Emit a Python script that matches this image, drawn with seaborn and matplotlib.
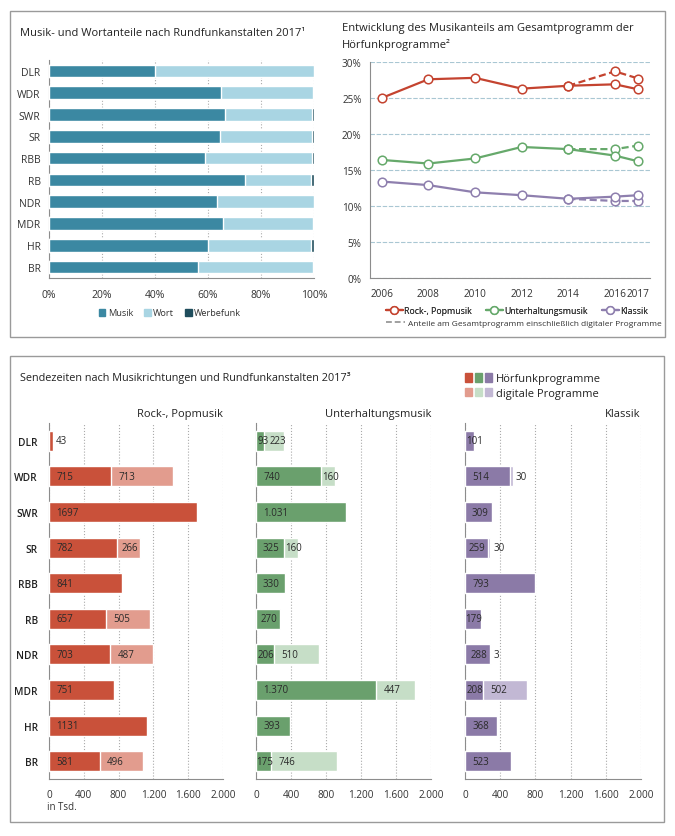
import matplotlib
matplotlib.use("Agg")
import matplotlib.pyplot as plt
from matplotlib.patches import Patch, Rectangle
from matplotlib.lines import Line2D
from matplotlib.legend_handler import HandlerTuple
import seaborn as sns
import numpy as np

# ---------------- data ----------------
stations = ["DLR", "WDR", "SWR", "SR", "RBB", "RB", "NDR", "MDR", "HR", "BR"]

# top left: shares in %
musik = [40.0, 65.0, 66.3, 64.5, 59.0, 73.8, 63.3, 65.5, 59.9, 56.4]
wort = [60.0, 34.5, 32.9, 34.8, 40.2, 25.2, 36.6, 34.0, 39.1, 43.2]
werbefunk = [0.0, 0.5, 0.8, 0.7, 0.8, 1.0, 0.1, 0.5, 1.0, 0.4]

# top right: music share in %
years = [2006, 2008, 2010, 2012, 2014, 2016, 2017]
rock_share = [25.0, 27.6, 27.8, 26.3, 26.7, 26.9, 26.2]
unterh_share = [16.4, 15.9, 16.6, 18.2, 17.9, 17.0, 16.2]
klassik_share = [13.4, 12.9, 11.9, 11.5, 11.0, 11.3, 11.5]
years_dig = [2014, 2016, 2017]
rock_share_dig = [26.7, 28.7, 27.7]
unterh_share_dig = [17.9, 17.9, 18.4]
klassik_share_dig = [11.0, 10.7, 10.7]

# bottom: airtime in thousand minutes
rock_radio = [43, 715, 1697, 782, 841, 657, 703, 751, 1131, 581]
rock_digital = [0, 713, 0, 266, 0, 505, 487, 0, 0, 496]
unterh_radio = [93, 740, 1031, 325, 330, 270, 206, 1370, 393, 175]
unterh_digital = [223, 160, 0, 160, 0, 0, 510, 447, 0, 746]
klassik_radio = [101, 514, 309, 259, 793, 179, 288, 208, 368, 523]
klassik_digital = [0, 30, 0, 30, 0, 0, 3, 502, 0, 0]

bottom_ticks = [0, 400, 800, 1200, 1600, 2000]
bottom_ticklabels = ["0", "400", "800", "1.200", "1.600", "2.000"]
pct_ticks_top_left = [0, 20, 40, 60, 80, 100]
pct_ticks_top_right = [0, 5, 10, 15, 20, 25, 30]

# ---------------- style ----------------
sns.set_style("white")
plt.rcParams["font.family"] = ["Open Sans", "DejaVu Sans"]
plt.rcParams["text.color"] = "#222222"

W, H = 675, 837
fig = plt.figure(figsize=(W / 100, H / 100), dpi=100)
fig.patch.set_facecolor("white")


def rect(x0, y0, x1, y1):
    return [x0 / W, 1 - y1 / H, (x1 - x0) / W, (y1 - y0) / H]


def fx(x):
    return x / W


def fy(y):
    return 1 - y / H


GRAY = "#8c8c8c"
TXT = "#333333"

# frames
for (x0, y0, x1, y1) in [(10, 12, 665, 338), (10, 357, 664, 823)]:
    fig.add_artist(Rectangle((fx(x0), fy(y1)), (x1 - x0) / W, (y1 - y0) / H,
                             transform=fig.transFigure, fill=False,
                             ec="#9a9a9a", lw=1.0))

# ---------------- top left ----------------
c_musik, c_wort, c_werbe = "#3b88a2", "#a9d5e3", "#1f4d5c"
ax1 = fig.add_axes(rect(49, 61, 314, 279))
total = [m + w + r for m, w, r in zip(musik, wort, werbefunk)]
mw = [m + w for m, w in zip(musik, wort)]
for vals, col in [(total, c_werbe), (mw, c_wort), (musik, c_musik)]:
    sns.barplot(x=vals, y=stations, orient="h", color=col, width=0.58,
                saturation=1, errorbar=None, ax=ax1, zorder=3)
ax1.set_xlim(0, 100)
ax1.set_ylim(9.5, -0.5)
ax1.set_xticks(pct_ticks_top_left)
ax1.set_xticklabels([f"{v}%" for v in pct_ticks_top_left])
ax1.set_xlabel("")
ax1.set_ylabel("")
ax1.xaxis.grid(True, ls=":", color="#aaaaaa", lw=0.8, zorder=0)
ax1.set_axisbelow(True)
for s in ["top", "right"]:
    ax1.spines[s].set_visible(False)
for s in ["left", "bottom"]:
    ax1.spines[s].set_color(GRAY)
    ax1.spines[s].set_linewidth(0.8)
ax1.set_yticks(np.arange(-0.5, 10, 1), minor=True)
ax1.tick_params(axis="y", which="major", length=0, labelsize=7.5,
                labelcolor=TXT, pad=6)
ax1.tick_params(axis="y", which="minor", length=3, color=GRAY, width=0.8)
ax1.tick_params(axis="x", which="major", length=3, color=GRAY, width=0.8,
                labelsize=7.5, labelcolor=TXT, pad=5)
fig.text(fx(20), fy(33), "Musik- und Wortanteile nach Rundfunkanstalten 2017\u00b9",
         fontsize=8, va="center", ha="left", color="#222222")
fig.legend(handles=[Patch(color=c_musik, label="Musik"),
                    Patch(color=c_wort, label="Wort"),
                    Patch(color=c_werbe, label="Werbefunk")],
           loc="center", bbox_to_anchor=(fx(170), fy(314)), ncol=3,
           frameon=False, fontsize=6.6, handlelength=0.7, handleheight=0.7,
           handletextpad=0.3, columnspacing=1.2, labelcolor=TXT)

# ---------------- top right ----------------
c_rock_l, c_unt_l, c_kla_l = "#c4432f", "#66a96b", "#8e7fae"
ax2 = fig.add_axes(rect(370, 63, 650, 279))
series = [(rock_share, rock_share_dig, c_rock_l),
          (unterh_share, unterh_share_dig, c_unt_l),
          (klassik_share, klassik_share_dig, c_kla_l)]
for solid, dig, col in series:
    sns.lineplot(x=years_dig, y=dig, ax=ax2, color=col, lw=1.6,
                 linestyle=(0, (3.2, 1.6)), marker="o", markersize=6.2,
                 markerfacecolor="white", markeredgecolor=col,
                 markeredgewidth=1.1, zorder=4)
    sns.lineplot(x=years, y=solid, ax=ax2, color=col, lw=1.6,
                 marker="o", markersize=6.2, markerfacecolor="white",
                 markeredgecolor=col, markeredgewidth=1.1, zorder=5)
ax2.set_xlim(2005.5, 2017.5)
ax2.set_ylim(0, 30)
ax2.set_xticks(years)
ax2.set_xticklabels([str(y) for y in years])
ax2.set_xticks(np.arange(2006.5, 2018, 1), minor=True)
ax2.set_yticks(pct_ticks_top_right)
ax2.set_yticklabels([f"{v}%" for v in pct_ticks_top_right])
ax2.set_xlabel("")
ax2.set_ylabel("")
ax2.yaxis.grid(True, color="#a9c7d3", lw=0.8, ls=(0, (4, 1.5)), zorder=0)
ax2.set_axisbelow(True)
for s in ["top", "right"]:
    ax2.spines[s].set_visible(False)
for s in ["left", "bottom"]:
    ax2.spines[s].set_color(GRAY)
    ax2.spines[s].set_linewidth(0.8)
ax2.tick_params(axis="x", which="major", length=0, labelsize=7.2,
                labelcolor=TXT, pad=7)
ax2.tick_params(axis="x", which="minor", length=3, color=GRAY, width=0.8)
ax2.tick_params(axis="y", which="major", length=3, color=GRAY, width=0.8,
                labelsize=7.2, labelcolor=TXT, pad=3)
fig.text(fx(342), fy(29), "Entwicklung des Musikanteils am Gesamtprogramm der",
         fontsize=8, va="center", ha="left", color="#222222")
fig.text(fx(342), fy(45), "H\u00f6rfunkprogramme\u00b2",
         fontsize=8, va="center", ha="left", color="#222222")


def lh(col, label):
    return Line2D([], [], color=col, lw=1.6, marker="o", markersize=5.5,
                  markerfacecolor="white", markeredgecolor=col,
                  markeredgewidth=1.1, label=label)


leg_a = fig.legend(handles=[lh(c_rock_l, "Rock-, Popmusik"),
                            lh(c_unt_l, "Unterhaltungsmusik"),
                            lh(c_kla_l, "Klassik")],
                   loc="center left", bbox_to_anchor=(fx(386), fy(312)),
                   ncol=3, frameon=False, fontsize=6.3, handlelength=1.9,
                   handletextpad=0.2, columnspacing=1.6, labelcolor=TXT,
                   borderpad=0, borderaxespad=0)
fig.add_artist(leg_a)
fig.legend(handles=[Line2D([], [], color="#a0a0a0", lw=1.4, ls=(0, (3, 1.5)),
                           label="Anteile am Gesamtprogramm einschlie\u00dflich digitaler Programme")],
           loc="center left", bbox_to_anchor=(fx(386), fy(324)),
           frameon=False, fontsize=6.0, handlelength=2.3, handletextpad=0.4,
           labelcolor=TXT, borderpad=0, borderaxespad=0)

# ---------------- bottom ----------------
fig.text(fx(20), fy(378), "Sendezeiten nach Musikrichtungen und Rundfunkanstalten 2017\u00b3",
         fontsize=7.8, va="center", ha="left", color="#222222")

panels = [
    ("Rock-, Popmusik", rock_radio, rock_digital, "#c9513a", "#e29c8e",
     (49, 223), lambda v: str(v)),
    ("Unterhaltungsmusik", unterh_radio, unterh_digital, "#6aa06d", "#c6dec7",
     (256, 431), lambda v: f"{v:,}".replace(",", ".")),
    ("Klassik", klassik_radio, klassik_digital, "#8b7aa7", "#c2b8d4",
     (465, 641), lambda v: f"{v:,}".replace(",", ".")),
]


def text_w(s):
    return sum(2.2 if ch == "." else 5.0 for ch in s)


for idx, (title, radio, dig, cd, cl, (x0, x1), fmt) in enumerate(panels):
    ax = fig.add_axes(rect(x0, 424, x1, 780))
    tot = [a + b for a, b in zip(radio, dig)]
    sns.barplot(x=tot, y=stations, orient="h", color=cl, width=0.56,
                saturation=1, errorbar=None, ax=ax, zorder=3)
    sns.barplot(x=radio, y=stations, orient="h", color=cd, width=0.56,
                saturation=1, errorbar=None, ax=ax, zorder=3)
    ax.set_xlim(0, 2000)
    ax.set_ylim(9.5, -0.5)
    ax.set_xticks(bottom_ticks)
    ax.set_xticklabels(bottom_ticklabels)
    ax.set_xlabel("")
    ax.set_ylabel("")
    ax.xaxis.grid(True, ls=":", color="#aaaaaa", lw=0.8, zorder=0)
    ax.set_axisbelow(True)
    for s in ["top", "right"]:
        ax.spines[s].set_visible(False)
    for s in ["left", "bottom"]:
        ax.spines[s].set_color(GRAY)
        ax.spines[s].set_linewidth(0.8)
    ax.set_yticks(np.arange(-0.5, 10, 1), minor=True)
    ax.tick_params(axis="y", which="minor", length=3, color=GRAY, width=0.8)
    ax.tick_params(axis="x", which="major", length=3, color=GRAY, width=0.8,
                   labelsize=7.2, labelcolor=TXT, pad=4)
    if idx == 0:
        ax.tick_params(axis="y", which="major", length=0, labelsize=7.3,
                       labelcolor="#222222", pad=8)
        for lab in ax.get_yticklabels():
            lab.set_fontweight("semibold")
    else:
        ax.tick_params(axis="y", which="major", length=0, labelleft=False)
    ax.set_title(title, loc="right", fontsize=8, pad=5, color="#222222")

    ppu = (x1 - x0) / 2000.0
    for i in range(len(stations)):
        prev_end_px = -100.0
        for start, w, is_l in [(0, radio[i], False), (radio[i], dig[i], True)]:
            if w <= 0:
                continue
            s = fmt(w)
            wpx = w * ppu
            tw = text_w(s)
            if wpx < 0.5 * tw:
                x = start + w + 3 / ppu
            elif wpx < tw:
                x = start + 1 / ppu
            elif wpx < tw + 15:
                x = start + (wpx - tw) / 2 / ppu
            else:
                x = start + 7.5 / ppu
            x = max(x, (prev_end_px + 3) / ppu)
            prev_end_px = x * ppu + tw
            ax.text(x, i, s, ha="left", va="center", fontsize=7,
                    color="#2a2a2a", zorder=5)

fig.text(fx(47), fy(808), "in Tsd.", fontsize=7, va="center", ha="left",
         color=TXT)

hr = tuple(Patch(color=c) for c in ["#c9513a", "#6aa06d", "#8b7aa7"])
dg = tuple(Patch(color=c) for c in ["#e29c8e", "#c6dec7", "#c2b8d4"])
fig.legend(handles=[hr, dg], labels=["H\u00f6rfunkprogramme", "digitale Programme"],
           handler_map={tuple: HandlerTuple(ndivide=None, pad=0.25)},
           loc="upper left", bbox_to_anchor=(fx(465), fy(374)),
           frameon=False, fontsize=8, handlelength=2.4, handleheight=0.85,
           handletextpad=0.4, labelspacing=0.3, labelcolor="#222222",
           borderpad=0, borderaxespad=0)

fig.savefig("out.png", dpi=100, facecolor="white")
